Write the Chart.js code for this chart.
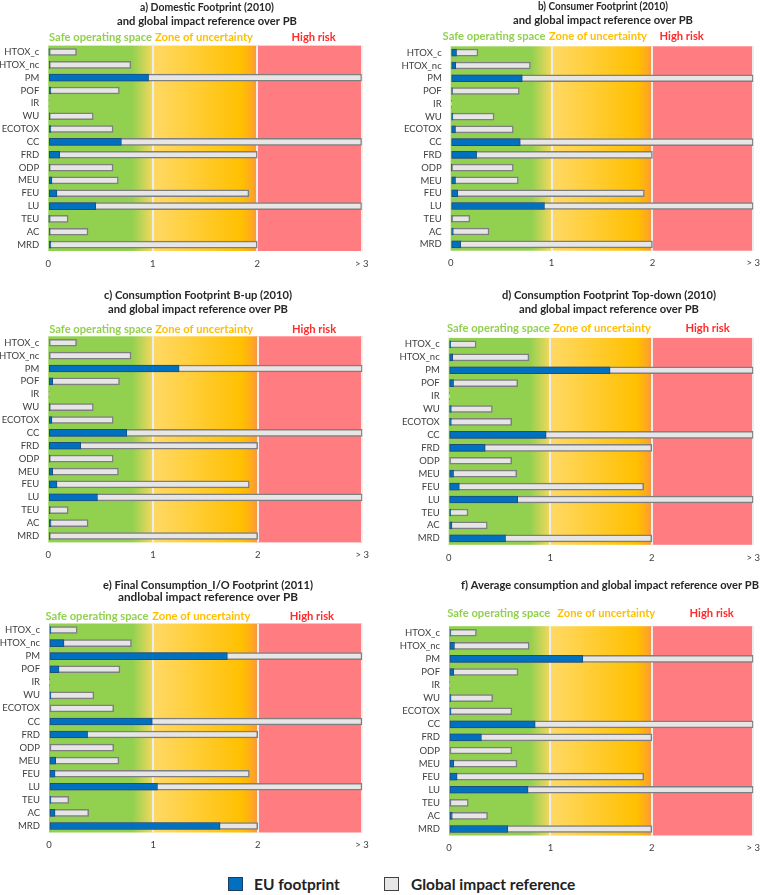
<!DOCTYPE html>
<html>
<head>
<meta charset="utf-8">
<script src="https://cdn.jsdelivr.net/npm/chart.js@4"></script>
<style>
  body { margin: 0; background: #fff; }
  #wrap { position: relative; width: 767px; height: 895px; font-family: Lato, "Open Sans", sans-serif; }
  #wrap canvas { position: absolute; }
  .swatch { position: absolute; width: 15px; height: 14px; box-sizing: border-box; }
  .legend-text { position: absolute; font-weight: bold; font-size: 15.5px; color: #222; line-height: 16px; }
</style>
</head>
<body>
<div id="wrap">
  <div class="swatch" style="left:228px;top:877px;background:#0070C0;border:1.5px solid #1F3864"></div>
  <div class="legend-text" style="left:254px;top:876px">EU footprint</div>
  <div class="swatch" style="left:384px;top:877px;background:#E7E6E6;border:1.5px solid #404040"></div>
  <div class="legend-text" style="left:411px;top:876px">Global impact reference</div>
</div>
<script>
// Six overlaid bar panels: EU footprint per impact category against the
// global impact reference, both normalised to the planetary boundary (PB).

const categories = ["HTOX_c", "HTOX_nc", "PM", "POF", "IR", "WU", "ECOTOX", "CC",
    "FRD", "ODP", "MEU", "FEU", "LU", "TEU", "AC", "MRD"];
const xTickLabels = ["0", "1", "2", "> 3"];
const zoneNames = ["Safe operating space", "Zone of uncertainty", "High risk"];

// Same reference in every panel; values above 3 are shown capped at "> 3".
const globalReference = [0.27, 0.79, 3, 0.68, 0.005, 0.43, 0.62, 3, 2.0, 0.62, 0.67, 1.92, 3, 0.19, 0.38, 2.0];

const euDomestic = [0.004, 0.015, 0.96, 0.025, 0, 0.015, 0.025, 0.70, 0.11, 0.012, 0.035, 0.083, 0.455, 0.003, 0.015, 0.025];
const euConsumer = [0.058, 0.05, 0.71, 0.016, 0, 0.022, 0.048, 0.69, 0.257, 0.003, 0.048, 0.07, 0.93, 0.013, 0.026, 0.10];
const euBottomUp = [0, 0, 1.25, 0.042, 0, 0.016, 0.035, 0.75, 0.31, 0.016, 0.042, 0.083, 0.47, 0.016, 0.026, 0.016];
const euTopDown = [0.02, 0.04, 1.59, 0.048, 0, 0.026, 0.026, 0.96, 0.36, 0, 0.048, 0.105, 0.68, 0.02, 0.032, 0.56];
const euFinalIO = [0.016, 0.144, 1.71, 0.096, 0, 0.016, 0, 0.99, 0.37, 0, 0.064, 0.058, 1.04, 0.016, 0.058, 1.64];
const euAverage = [0.013, 0.054, 1.32, 0.048, 0, 0.019, 0.019, 0.85, 0.32, 0, 0.048, 0.08, 0.78, 0.01, 0.032, 0.58];

const ZONE_COLORS = ["#92D050", "#FFC000", "#FF2A2A"];
const FONT = 'Lato, "Open Sans", sans-serif';

// Page layout per panel: canvas box [x, y, w, h], plot area [left, top, right, bottom]
// in page pixels, title/zone label placement. titleW caps each title line's width.
const panels = [
    { series: euDomestic, title: ["a) Domestic Footprint (2010)", "and global impact reference over PB"],
      box: [0, 0, 384, 280], area: [48.3, 45.6, 361.7, 251], titleX: 207, titleY: [7, 21], titleW: [134, 180],
      zoneY: 37.5, zoneAt: [0.5, 1.49, 2.54] },
    { series: euConsumer, title: ["b) Consumer Footprint (2010)", "and global impact reference over PB"],
      box: [384, 0, 383, 280], area: [450.7, 46.3, 761.7, 250.7], titleX: 603, titleY: [6.5, 20], titleW: [130, 180],
      zoneY: 36.5, zoneAt: [0.43, 1.46, 2.29] },
    { series: euBottomUp, title: ["c) Consumption Footprint B-up (2010)", "and global impact reference over PB"],
      box: [0, 280, 384, 290], area: [48.3, 336.3, 362.3, 542.4], titleX: 198, titleY: [295.5, 309], titleW: [188, 180],
      zoneY: 329.5, zoneAt: [0.5, 1.49, 2.54] },
    { series: euTopDown, title: ["d) Consumption Footprint Top-down (2010)", "and global impact reference over PB"],
      box: [384, 280, 383, 290], area: [448.7, 337.9, 762.3, 544.8], titleX: 609, titleY: [295.5, 309.5], titleW: [214, 180],
      zoneY: 328, zoneAt: [0.49, 1.51, 2.55] },
    { series: euFinalIO, title: ["e) Final Consumption_I/O Footprint (2011)", "andlobal impact reference over PB"],
      box: [0, 570, 384, 295], area: [49, 623.5, 362, 832.5], titleX: 208, titleY: [585, 597.5], titleW: [210, 190],
      zoneY: 616, zoneAt: [0.46, 1.46, 2.52] },
    { series: euAverage, title: ["f) Average consumption and global impact reference over PB"],
      box: [384, 570, 383, 295], area: [449, 626.2, 761.7, 835.5], titleX: 610, titleY: [585.5], titleW: [298],
      zoneY: 613, zoneAt: [0.49, 1.55, 2.59] },
];

// Green -> yellow/orange -> red bands behind the bars.
const zoneBackground = {
    id: "zoneBackground",
    beforeDraw(chart) {
        const { ctx, chartArea: a, scales: { x } } = chart;
        const x0 = x.getPixelForValue(0);
        const x3 = x.getPixelForValue(3);
        const g = ctx.createLinearGradient(x0, 0, x3, 0);
        const stop = (v, c) => g.addColorStop(v / 3, c);
        stop(0, "#92D050");
        stop(0.8, "#92D050");
        stop(0.995, "#F2D85C");
        stop(1.0, "#FFD966");
        stop(1.85, "#FFC000");
        stop(1.95, "#FFA81E");
        stop(1.995, "#F79646");
        stop(2.0, "#FF7C80");
        stop(3, "#FF7C80");
        ctx.save();
        ctx.fillStyle = g;
        ctx.fillRect(x0, a.top, x3 - x0, a.bottom - a.top);
        ctx.restore();
    },
};

function panelText(p, ox, oy) {
    return {
        id: "panelText",
        afterDraw(chart) {
            const { ctx, scales: { x } } = chart;
            ctx.save();
            ctx.textAlign = "center";
            ctx.textBaseline = "middle";
            ctx.font = "bold 11.8px " + FONT;
            ctx.fillStyle = "#262626";
            p.title.forEach((line, i) => ctx.fillText(line, p.titleX - ox, p.titleY[i] - oy, p.titleW[i]));
            ctx.font = "bold 11.2px " + FONT;
            zoneNames.forEach((name, i) => {
                ctx.fillStyle = ZONE_COLORS[i];
                ctx.fillText(name, x.getPixelForValue(p.zoneAt[i]), p.zoneY - oy);
            });
            ctx.restore();
        },
    };
}

function renderPanel(p) {
    const [ox, oy, w, h] = p.box;
    const [l, t, r, b] = p.area;
    const canvas = document.createElement("canvas");
    canvas.width = w;
    canvas.height = h;
    canvas.style.left = ox + "px";
    canvas.style.top = oy + "px";
    document.getElementById("wrap").appendChild(canvas);

    new Chart(canvas.getContext("2d"), {
        type: "bar",
        data: {
            labels: categories,
            datasets: [
                {
                    label: "EU footprint",
                    data: p.series,
                    backgroundColor: "#0070C0",
                    borderColor: "#1F4E79",
                    borderWidth: 1,
                    borderSkipped: false,
                    barThickness: 7,
                    grouped: false,
                    order: 0,
                },
                {
                    label: "Global impact reference",
                    data: globalReference,
                    backgroundColor: "#E7E6E6",
                    borderColor: "#7F7F7F",
                    borderWidth: 1.5,
                    borderSkipped: false,
                    barThickness: 7,
                    grouped: false,
                    order: 1,
                },
            ],
        },
        options: {
            indexAxis: "y",
            responsive: false,
            animation: false,
            layout: { padding: { top: t - oy, right: w - (r - ox), bottom: 0, left: 0 } },
            plugins: {
                legend: { display: false },
                title: { display: false },
                tooltip: { enabled: false },
            },
            scales: {
                x: {
                    type: "linear",
                    min: 0,
                    max: 3,
                    border: { display: false },
                    grid: {
                        drawTicks: false,
                        lineWidth: 2,
                        color: (ctx) => (ctx.tick && ctx.tick.value > 0 ? "#EDEDED" : "rgba(0,0,0,0)"),
                    },
                    ticks: {
                        stepSize: 1,
                        padding: 7,
                        color: "#404040",
                        font: { family: FONT, size: 9.5 },
                        callback: (v) => xTickLabels[v],
                    },
                    afterFit: (s) => { s.height = h - (b - oy); },
                },
                y: {
                    border: { display: false },
                    grid: { display: false, drawTicks: false },
                    ticks: {
                        autoSkip: false,
                        padding: 9,
                        color: "#404040",
                        font: { family: FONT, size: 9.5 },
                    },
                    afterFit: (s) => { s.width = l - ox; },
                },
            },
        },
        plugins: [zoneBackground, panelText(p, ox, oy)],
    });
}

panels.forEach(renderPanel);
</script>
</body>
</html>
